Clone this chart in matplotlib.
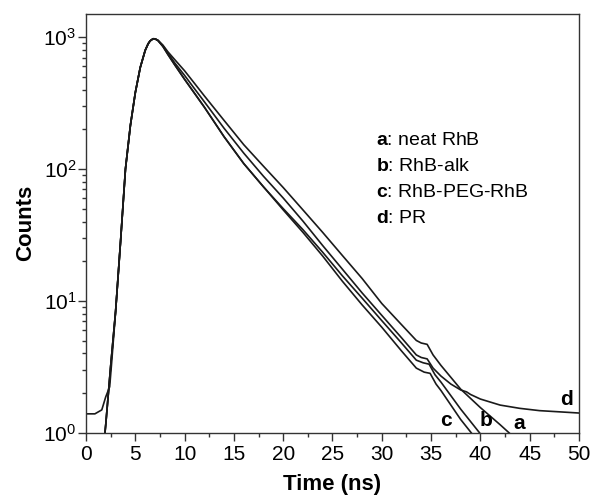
import numpy as np
import matplotlib
matplotlib.use('Agg')
import matplotlib.pyplot as plt
from matplotlib.ticker import MultipleLocator, LogLocator, NullFormatter

plt.rcParams['font.family'] = ['Liberation Sans', 'DejaVu Sans']
plt.rcParams['mathtext.fontset'] = 'custom'
plt.rcParams['mathtext.rm'] = 'Liberation Sans'
plt.rcParams['mathtext.bf'] = 'Liberation Sans:bold'

# common rising edge of the decays (time in ns, counts)
t_rise = [1.6, 2.0, 2.5, 3.0, 3.5, 4.0, 4.5, 5.0, 5.5, 6.0, 6.3, 6.5, 6.8]
c_rise = [0.56, 1.15, 3.2, 8.3, 28, 100, 214, 380, 589, 794, 891, 938, 973]

# PR curve starts on a background of ~1.4 counts
t_d_rise = [0.0, 0.9, 1.6, 2.0, 2.4, 2.6, 3.0, 3.5, 4.0, 4.5, 5.0, 5.5, 6.0,
            6.3, 6.5, 6.8]
c_d_rise = [1.39, 1.39, 1.49, 1.87, 2.23, 3.4, 8.3, 28, 100, 214, 380, 589,
            794, 891, 938, 973]

t_a = [7.0, 7.3, 7.8, 8.3, 9, 10, 11, 12, 14, 16, 18, 20, 22, 24, 26, 28, 30,
       32, 33.5, 34.0, 34.6, 35.2, 36, 38, 40, 42, 43.5]
c_a = [972, 948, 871, 776, 676, 556, 447, 359, 234, 153, 105, 72.4, 49, 33.1,
       22.1, 14.8, 9.55, 6.6, 5.01, 4.79, 4.68, 3.89, 3.24, 2.14, 1.55, 1.15,
       0.91]

t_b = [7.0, 7.3, 7.8, 8.3, 9, 10, 11, 12, 14, 16, 18, 20, 22, 24, 26, 28, 30,
       32, 33.5, 34.2, 34.8, 35.4, 36, 38, 40]
c_b = [972, 944, 851, 741, 617, 479, 376, 295, 176, 110, 73.3, 50.1, 34.7,
       23.4, 15.5, 10.5, 7.08, 4.79, 3.55, 3.39, 3.31, 2.75, 2.42, 1.51, 0.98]

t_c = [7.0, 7.3, 7.8, 8.3, 9, 10, 11, 12, 14, 16, 18, 20, 22, 24, 26, 28, 30,
       32, 33.5, 34.3, 34.9, 35.5, 36, 38, 39.5]
c_c = [972, 944, 851, 741, 617, 479, 376, 295, 176, 110, 73.3, 49, 33.1, 21.9,
       14.1, 9.33, 6.31, 4.17, 3.09, 2.88, 2.82, 2.34, 2.09, 1.26, 0.91]

t_d = [7.0, 7.3, 7.8, 8.3, 9, 10, 11, 12, 14, 16, 18, 20, 22, 24, 26, 28, 30,
       32, 33.5, 34.0, 34.6, 35.2, 36, 37, 38, 38.6, 39, 40, 42, 44, 46, 48, 50]
c_d = [972, 944, 861, 759, 638, 513, 407, 324, 204, 132, 88.1, 60.3, 40.3,
       26.3, 17.4, 11.5, 7.76, 5.25, 3.89, 3.72, 3.63, 3.09, 2.69, 2.34, 2.11,
       2.04, 1.95, 1.80, 1.62, 1.53, 1.47, 1.44, 1.41]

legend_lines = ['a', 'b', 'c', 'd']
legend_names = ['neat RhB', 'RhB-alk', 'RhB-PEG-RhB', 'PR']

fig = plt.figure(figsize=(5.92, 5.0), dpi=100)
ax = fig.add_axes([0.1453, 0.1346, 0.8327, 0.8374])

lw = 1.2
for tt, cc in [(t_a, c_a), (t_b, c_b), (t_c, c_c)]:
    ax.plot(t_rise + tt, c_rise + cc, color='#1a1a1a', lw=lw)
ax.plot(t_d_rise + t_d, c_d_rise + c_d, color='#1a1a1a', lw=lw)

ax.set_yscale('log')
ax.set_xlim(0, 50)
ax.set_ylim(1, 1500)

ax.xaxis.set_major_locator(MultipleLocator(5))
ax.xaxis.set_minor_locator(MultipleLocator(2.5))
ax.yaxis.set_major_locator(LogLocator(base=10, numticks=10))
ax.yaxis.set_minor_locator(LogLocator(base=10, subs=np.arange(2, 10), numticks=10))
ax.yaxis.set_minor_formatter(NullFormatter())

ax.tick_params(which='major', direction='out', length=6, width=1, labelsize=15,
               top=False, right=False, color='#333333')
ax.tick_params(which='minor', direction='out', length=3, width=1,
               top=False, right=False, color='#333333')
ax.tick_params(axis='x', pad=3)
ax.tick_params(axis='y', pad=1)

for s in ax.spines.values():
    s.set_linewidth(1.0)
    s.set_color('#333333')

ax.set_xlabel('Time (ns)', fontsize=16, fontweight='bold', labelpad=7)
ax.set_ylabel('Counts', fontsize=16, fontweight='bold', labelpad=5)

# curve letters
ax.text(36.5, 1.23, 'c', fontsize=15, fontweight='bold', ha='center', va='center')
ax.text(40.55, 1.23, 'b', fontsize=15, fontweight='bold', ha='center', va='center')
ax.text(43.9, 1.18, 'a', fontsize=15, fontweight='bold', ha='center', va='center')
ax.text(48.7, 1.8, 'd', fontsize=15, fontweight='bold', ha='center', va='center')

for i, (k, name) in enumerate(zip(legend_lines, legend_names)):
    ax.text(0.588, 0.697 - i * 0.062, r'$\mathbf{' + k + '}$: ' + name,
            transform=ax.transAxes, fontsize=14, ha='left', va='center')

fig.savefig('out.png', dpi=100)
